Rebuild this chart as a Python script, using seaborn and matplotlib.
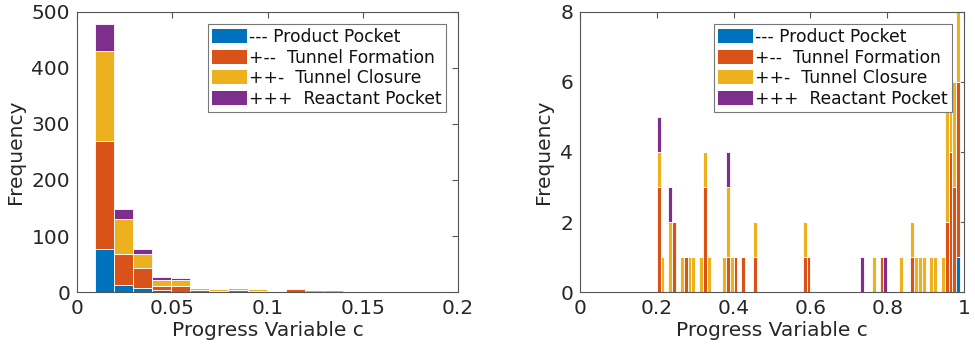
import numpy as np
import pandas as pd
import matplotlib
matplotlib.use("Agg")
import matplotlib.pyplot as plt
from matplotlib.patches import Patch
import seaborn as sns

# ---------------- data ----------------
categories = ["--- Product Pocket", "+--  Tunnel Formation",
              "++-  Tunnel Closure", "+++  Reactant Pocket"]
colors = ["#0072BD", "#D95319", "#EDB120", "#7E2F8E"]

# left panel: bin centres (bin width 0.01) and stacked counts
left_centers = [0.0145, 0.0245, 0.0345, 0.0445, 0.0545, 0.0645, 0.0745,
                0.0845, 0.0945, 0.1045, 0.1145, 0.1245, 0.1345, 0.1445,
                0.1545, 0.1645, 0.1745, 0.1845, 0.1945]
left_product   = [77, 12, 8, 3, 0, 0, 0, 0, 0, 0, 0, 0, 0, 0, 0, 0, 0, 0, 0]
left_formation = [193, 56, 35, 8, 11, 3, 1, 4, 1, 0, 5, 0, 0, 0, 0, 0, 0, 0, 0]
left_closure   = [161, 62, 25, 10, 10, 5, 4, 4, 5, 0, 3, 3, 3, 0, 2, 0, 0, 0, 2]
left_reactant  = [48, 19, 8, 6, 4, 0, 0, 0, 0, 0, 0, 0, 0, 0, 0, 0, 0, 0, 0]
left_edges = [0.0095, 0.0195, 0.0295, 0.0395, 0.0495, 0.0595, 0.0695, 0.0795,
              0.0895, 0.0995, 0.1095, 0.1195, 0.1295, 0.1395, 0.1495, 0.1595,
              0.1695, 0.1795, 0.1895, 0.1995]

# right panel: bin centres (bin width 0.01) and stacked counts
right_centers = [0.205, 0.215, 0.235, 0.245, 0.265, 0.275, 0.285, 0.295,
                 0.315, 0.325, 0.335, 0.375, 0.385, 0.395, 0.405, 0.425,
                 0.455, 0.585, 0.595, 0.735, 0.765, 0.785, 0.795, 0.835,
                 0.865, 0.875, 0.885, 0.895, 0.915, 0.925, 0.945, 0.955,
                 0.965, 0.975, 0.985]
right_product   = [0, 0, 0, 0, 0, 0, 0, 0, 0, 0, 0, 0, 0, 0, 0, 0, 0, 0, 0,
                   0, 0, 0, 0, 0, 0, 0, 0, 0, 0, 0, 0, 0, 0, 0, 1]
right_formation = [3, 0, 0, 2, 0, 1, 0, 0, 0, 3, 0, 0, 1, 0, 1, 1, 1, 1, 1,
                   0, 0, 1, 0, 0, 1, 0, 0, 0, 0, 0, 0, 2, 4, 3, 5]
right_closure   = [1, 1, 2, 0, 1, 0, 1, 1, 1, 1, 1, 1, 2, 1, 0, 0, 1, 1, 0,
                   0, 1, 0, 0, 1, 1, 1, 1, 1, 1, 1, 1, 4, 2, 3, 2]
right_reactant  = [1, 0, 1, 0, 0, 0, 0, 0, 0, 0, 0, 0, 1, 0, 0, 0, 0, 0, 0,
                   1, 0, 0, 1, 0, 0, 0, 0, 0, 0, 0, 0, 0, 0, 0, 0]
right_edges = [round(0.01 * k, 2) for k in range(101)]


def long_frame(centers, series):
    rows = []
    for name, vals in zip(categories, series):
        for c, v in zip(centers, vals):
            rows.append({"c": c, "count": v, "type": name})
    return pd.DataFrame(rows)


left_df = long_frame(left_centers, [left_product, left_formation,
                                    left_closure, left_reactant])
right_df = long_frame(right_centers, [right_product, right_formation,
                                      right_closure, right_reactant])

# ---------------- style ----------------
sns.set_style("white")
plt.rcParams["font.family"] = ["DejaVu Sans"]
axcol = "#555555"
txtcol = "#262626"
plt.rcParams.update({
    "axes.edgecolor": axcol,
    "axes.linewidth": 0.8,
    "xtick.color": axcol,
    "ytick.color": axcol,
    "xtick.labelcolor": txtcol,
    "ytick.labelcolor": txtcol,
    "axes.labelcolor": txtcol,
})

fig = plt.figure(figsize=(9.75, 3.51), dpi=100)
axL = fig.add_axes([0.079, 0.168, 0.3908, 0.798])
axR = fig.add_axes([0.5949, 0.168, 0.3938, 0.798])

# seaborn stacks the last hue level at the bottom -> reverse order
hue_order = categories[::-1]
pal = dict(zip(categories, colors))

for ax, df, edges in [(axL, left_df, left_edges), (axR, right_df, right_edges)]:
    sns.histplot(data=df, x="c", weights="count", hue="type",
                 hue_order=hue_order, palette=pal, multiple="stack",
                 bins=edges, alpha=1, edgecolor="white", linewidth=0.6,
                 legend=False, ax=ax)

fs = 14.5
axL.set_xlim(0, 0.2)
axL.set_ylim(0, 500)
axL.set_xticks([0, 0.05, 0.1, 0.15, 0.2])
axL.set_xticklabels(["0", "0.05", "0.1", "0.15", "0.2"])
axL.set_yticks([0, 100, 200, 300, 400, 500])

axR.set_xlim(0, 1)
axR.set_ylim(0, 8)
axR.set_xticks([0, 0.2, 0.4, 0.6, 0.8, 1])
axR.set_xticklabels(["0", "0.2", "0.4", "0.6", "0.8", "1"])
axR.set_yticks([0, 2, 4, 6, 8])

handles = [Patch(facecolor=c, edgecolor="none") for c in colors]
for ax in (axL, axR):
    ax.set_xlabel("Progress Variable c", fontsize=fs, labelpad=2)
    ax.set_ylabel("Frequency", fontsize=fs, labelpad=5)
    ax.tick_params(direction="in", length=4, width=0.8, top=True, right=True,
                   labelsize=fs, pad=5)
    for s in ax.spines.values():
        s.set_visible(True)
        s.set_color(axcol)
        s.set_linewidth(0.8)
    leg = ax.legend(handles, categories, loc="upper right", fontsize=12.3,
                    handlelength=2.0, handleheight=0.9, handletextpad=0.15,
                    labelspacing=0.15, borderpad=0.25, borderaxespad=0.7,
                    frameon=True, fancybox=False, framealpha=1,
                    edgecolor="#777777")
    leg.get_frame().set_linewidth(0.8)
    for t in leg.get_texts():
        t.set_color("#111111")

fig.savefig("out.png", dpi=100)
